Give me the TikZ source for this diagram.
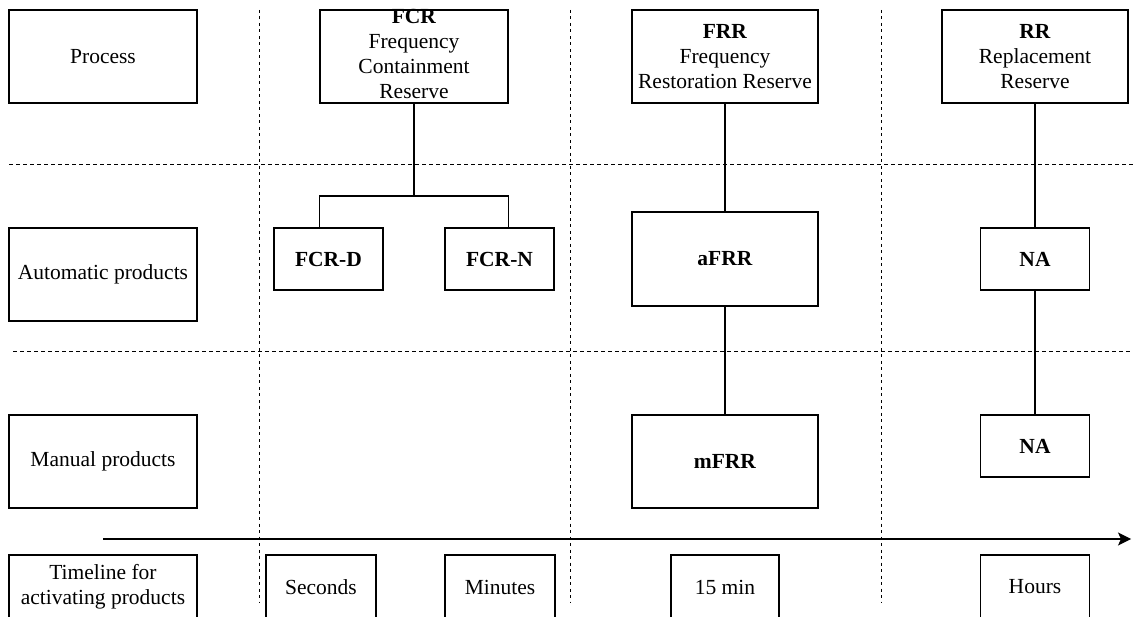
\documentclass[tikz,border=0pt]{standalone}
\usepackage{fontspec}
\setmainfont{Liberation Serif}
\usetikzlibrary{arrows.meta}

\begin{document}
\begin{tikzpicture}[x=1pt, y=-1pt,
  every node/.style={font=\fontsize{21.5}{25}\selectfont, align=center, inner sep=0pt},
  box/.style={draw, line width=1.3pt, minimum width=#1},
  box/.default=188pt,
  tall/.style={minimum height=93pt},
  short/.style={minimum height=62pt},
  bottom/.style={minimum height=64pt},
  hgrid/.style={line width=1pt, dash pattern=on 4pt off 3pt},
  vgrid/.style={line width=1pt, dash pattern=on 3pt off 3.5pt},
  link/.style={line width=1.3pt},
  timeline/.style={line width=1.3pt, -{Stealth[length=13pt, width=13pt, inset=3pt]}}
]
\useasboundingbox (0,0) rectangle (1133,617);
\clip (0,0) rectangle (1133,617);

% dashed grid separating rows and columns
\draw[vgrid] (259,10) -- (259,603);
\draw[vgrid] (570,10) -- (570,603);
\draw[vgrid] (881,10) -- (881,603);
\draw[hgrid] (9,165) -- (1133,165);
\draw[hgrid] (13,352) -- (1133,352);

% row headers
\node[box, tall] (process) at (103,56.5) {Process};
\node[box, tall] (auto) at (103,274.5) {Automatic products};
\node[box, tall] (manual) at (103,461.5) {Manual products};
\node[box, bottom] (timeline) at (103,587) {Timeline for\\activating products};

% processes
\node[box, tall] (fcr) at (414,56.5) {};
\node (fcrtext) at (414,54) {\textbf{FCR}\\Frequency\\Containment\\Reserve};
\node[box=186pt, tall] (frr) at (725,56.5) {\textbf{FRR}\\Frequency\\Restoration Reserve};
\node[box=186pt, tall] (rr) at (1035,56.5) {\textbf{RR}\\Replacement\\Reserve};

% automatic products
\node[box=109pt, short] (fcrd) at (328.5,259) {\textbf{FCR-D}};
\node[box=109pt, short] (fcrn) at (499.5,259) {\textbf{FCR-N}};
\node[box=186pt, minimum height=94pt] (afrr) at (725,259) {\textbf{aFRR}};
\node[box=109pt, short] (naauto) at (1035,259) {\textbf{NA}};

% manual products
\node[box=186pt, tall] (mfrr) at (725,461.5) {\textbf{mFRR}};
\node[box=109pt, short] (namanual) at (1035,446) {\textbf{NA}};

% activation times
\node[box=110pt, bottom] (seconds) at (321,587) {Seconds};
\node[box=110pt, bottom] (minutes) at (500,587) {Minutes};
\node[box=108pt, bottom] (quarter) at (725,587) {15 min};
\node[box=109pt, bottom] (hours) at (1035,587) {Hours};

% FCR split into its two products
\coordinate (split) at (414,196);
\draw[link] (fcr.south) -- (split);
\draw[link] (fcr.south west |- split) -- (fcr.south east |- split);
\draw[link] (fcr.south west |- split) -- (fcr.south west |- fcrd.north);
\draw[link] (fcr.south east |- split) -- (fcr.south east |- fcrn.north);

% FRR and RR chains
\draw[link] (frr) -- (afrr);
\draw[link] (afrr) -- (mfrr);
\draw[link] (rr) -- (naauto);
\draw[link] (naauto) -- (namanual);

% time axis
\coordinate (tstart) at (103,539);
\coordinate (tend) at (1131,539);
\draw[timeline] (tstart) -- (tend);
\end{tikzpicture}
\end{document}
